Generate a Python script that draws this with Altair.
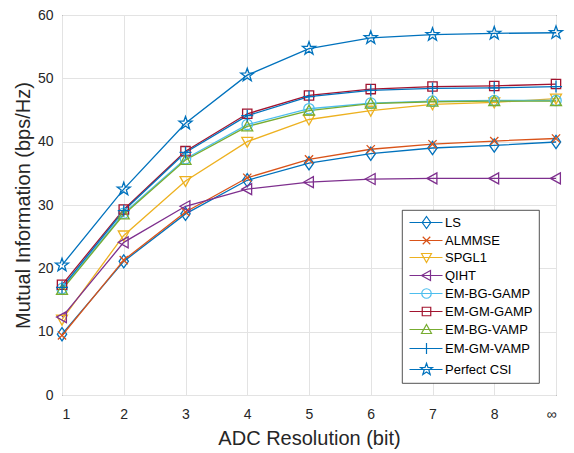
import math
import altair as alt
import pandas as pd

# ---------------- data ----------------
x_vals = [1, 2, 3, 4, 5, 6, 7, 8, 9]          # 9 = infinite resolution
x_labels = ["1", "2", "3", "4", "5", "6", "7", "8", "∞"]

series_names = ["LS", "ALMMSE", "SPGL1", "QIHT", "EM-BG-GAMP",
                "EM-GM-GAMP", "EM-BG-VAMP", "EM-GM-VAMP", "Perfect CSI"]

ls_vals      = [9.6, 21.1, 28.6, 33.9, 36.6, 38.1, 39.0, 39.4, 39.95]
almmse_vals  = [9.4, 21.3, 28.9, 34.3, 37.2, 38.8, 39.6, 40.1, 40.5]
spgl1_vals   = [11.9, 25.2, 33.8, 40.0, 43.5, 44.9, 45.9, 46.2, 46.8]
qiht_vals    = [12.3, 24.1, 29.8, 32.5, 33.6, 34.1, 34.2, 34.2, 34.2]
embggamp_vals = [16.8, 28.7, 37.3, 42.7, 45.2, 46.1, 46.4, 46.5, 46.5]
emgmgamp_vals = [17.4, 29.3, 38.5, 44.4, 47.3, 48.3, 48.7, 48.8, 49.1]
embgvamp_vals = [16.6, 28.5, 37.1, 42.4, 44.9, 46.0, 46.3, 46.4, 46.4]
emgmvamp_vals = [17.0, 29.1, 38.3, 44.1, 47.1, 48.1, 48.4, 48.5, 48.7]
perfect_vals  = [20.5, 32.5, 42.9, 50.5, 54.7, 56.4, 56.9, 57.1, 57.2]

colors = ["#0072BD", "#D95319", "#EDB120", "#7E2F8E", "#4DBEEE",
          "#A2142F", "#77AC30", "#0072BD", "#0072BD"]

all_vals = [ls_vals, almmse_vals, spgl1_vals, qiht_vals, embggamp_vals,
            emgmgamp_vals, embgvamp_vals, emgmvamp_vals, perfect_vals]

rows = []
for name, vals in zip(series_names, all_vals):
    for xv, yv in zip(x_vals, vals):
        rows.append({"series": name, "series_leg": name, "x": xv, "y": yv})
df = pd.DataFrame(rows)

# ---------------- marker shapes (unit coords) ----------------
def poly(pts, dx=0.0):
    return "M" + "L".join(f"{px + dx:.3f},{py:.3f}" for px, py in pts) + "Z"

def segs(lines, dx=0.0):
    return "".join(f"M{a + dx:.3f},{b:.3f}L{c + dx:.3f},{d:.3f}" for a, b, c, d in lines)

def circ(r=1.0, dx=0.0):
    return (f"M{r + dx:.3f},0A{r},{r},0,1,1,{-r + dx:.3f},0"
            f"A{r},{r},0,1,1,{r + dx:.3f},0Z")

star_pts = []
for k in range(10):
    ang = -math.pi / 2 + k * math.pi / 5
    rad = 1.25 if k % 2 == 0 else 0.5
    star_pts.append((rad * math.cos(ang), rad * math.sin(ang)))

def marker(name, dx=0.0):
    if name == "LS":
        return poly([(0, -1.2), (0.85, 0), (0, 1.2), (-0.85, 0)], dx)
    if name == "ALMMSE":
        return segs([(-0.75, -0.75, 0.75, 0.75), (-0.75, 0.75, 0.75, -0.75)], dx)
    if name == "SPGL1":
        return poly([(-1, -0.8), (1, -0.8), (0, 1)], dx)
    if name == "QIHT":
        return poly([(-1, 0), (0.8, -1), (0.8, 1)], dx)
    if name == "EM-BG-GAMP":
        return circ(0.95, dx)
    if name == "EM-GM-GAMP":
        return poly([(-0.85, -0.85), (0.85, -0.85), (0.85, 0.85), (-0.85, 0.85)], dx)
    if name == "EM-BG-VAMP":
        return poly([(0, -1), (1, 0.8), (-1, 0.8)], dx)
    if name == "EM-GM-VAMP":
        return segs([(-1.1, 0, 1.1, 0), (0, -1.1, 0, 1.1)], dx)
    return poly(star_pts, dx)

plot_shapes = [marker(n) for n in series_names]
LEG_DX = 2.4
LEG_END = 5.6
legend_shapes = [f"M-1,0L{LEG_END},0" + marker(n, LEG_DX) for n in series_names]

# ---------------- chart ----------------
x_enc = alt.X("x:Q", scale=alt.Scale(domain=[1, 9], nice=False),
              axis=alt.Axis(values=x_vals,
                            labelExpr="datum.value == 9 ? '∞' : datum.label",
                            title="ADC Resolution (bit)"))
y_enc = alt.Y("y:Q", scale=alt.Scale(domain=[0, 60], nice=False),
              axis=alt.Axis(values=[0, 10, 20, 30, 40, 50, 60],
                            title="Mutual Information (bps/Hz)"))

base = alt.Chart(df)

lines = base.mark_line(strokeWidth=1.3).encode(
    x=x_enc, y=y_enc,
    color=alt.Color("series:N", scale=alt.Scale(domain=series_names, range=colors),
                    legend=None),
)

points = base.mark_point(filled=False, strokeWidth=1.3, size=120, opacity=1).encode(
    x=x_enc, y=y_enc,
    color=alt.Color("series:N", scale=alt.Scale(domain=series_names, range=colors),
                    legend=None),
    shape=alt.Shape("series:N", scale=alt.Scale(domain=series_names, range=plot_shapes),
                    legend=None),
)

leg = alt.Legend(title=None, orient="none", legendX=340, legendY=195)

legend_layer = base.transform_filter("datum.x < 0").mark_point(
    filled=False, strokeWidth=1.2, size=100, opacity=1
).encode(
    x=x_enc, y=y_enc,
    color=alt.Color("series_leg:N", scale=alt.Scale(domain=series_names, range=colors),
                    legend=leg),
    shape=alt.Shape("series_leg:N", scale=alt.Scale(domain=series_names, range=legend_shapes),
                    legend=leg),
)

chart = alt.layer(lines, points, legend_layer).resolve_scale(
    color="independent", shape="independent"
).properties(
    width=494, height=380,
    autosize=alt.AutoSizeParams(type="none"),
    padding={"left": 54, "top": 7, "right": 10, "bottom": 55},
).configure_view(
    stroke="#262626", strokeWidth=1
).configure_axis(
    grid=True, gridColor="#e3e3e3", gridWidth=1,
    domain=False, ticks=False, tickSize=0,
    labelFont="Liberation Sans", labelFontSize=14, labelColor="#262626",
    titleFont="Liberation Sans", titleFontSize=20, titleFontWeight="normal",
    titleColor="#262626",
).configure_axisX(
    labelPadding=12, titlePadding=7,
).configure_axisY(
    labelPadding=9, titlePadding=4,
).configure_legend(
    strokeColor="#262626", fillColor="white", strokeWidth=0.8,
    padding=6, cornerRadius=0,
    symbolSize=100, symbolStrokeWidth=1.2, labelOffset=24, rowPadding=3,
    labelFont="Liberation Sans", labelFontSize=13, labelColor="#000000",
)

chart.save("out.html", embed_options={"renderer": "svg", "actions": False})
